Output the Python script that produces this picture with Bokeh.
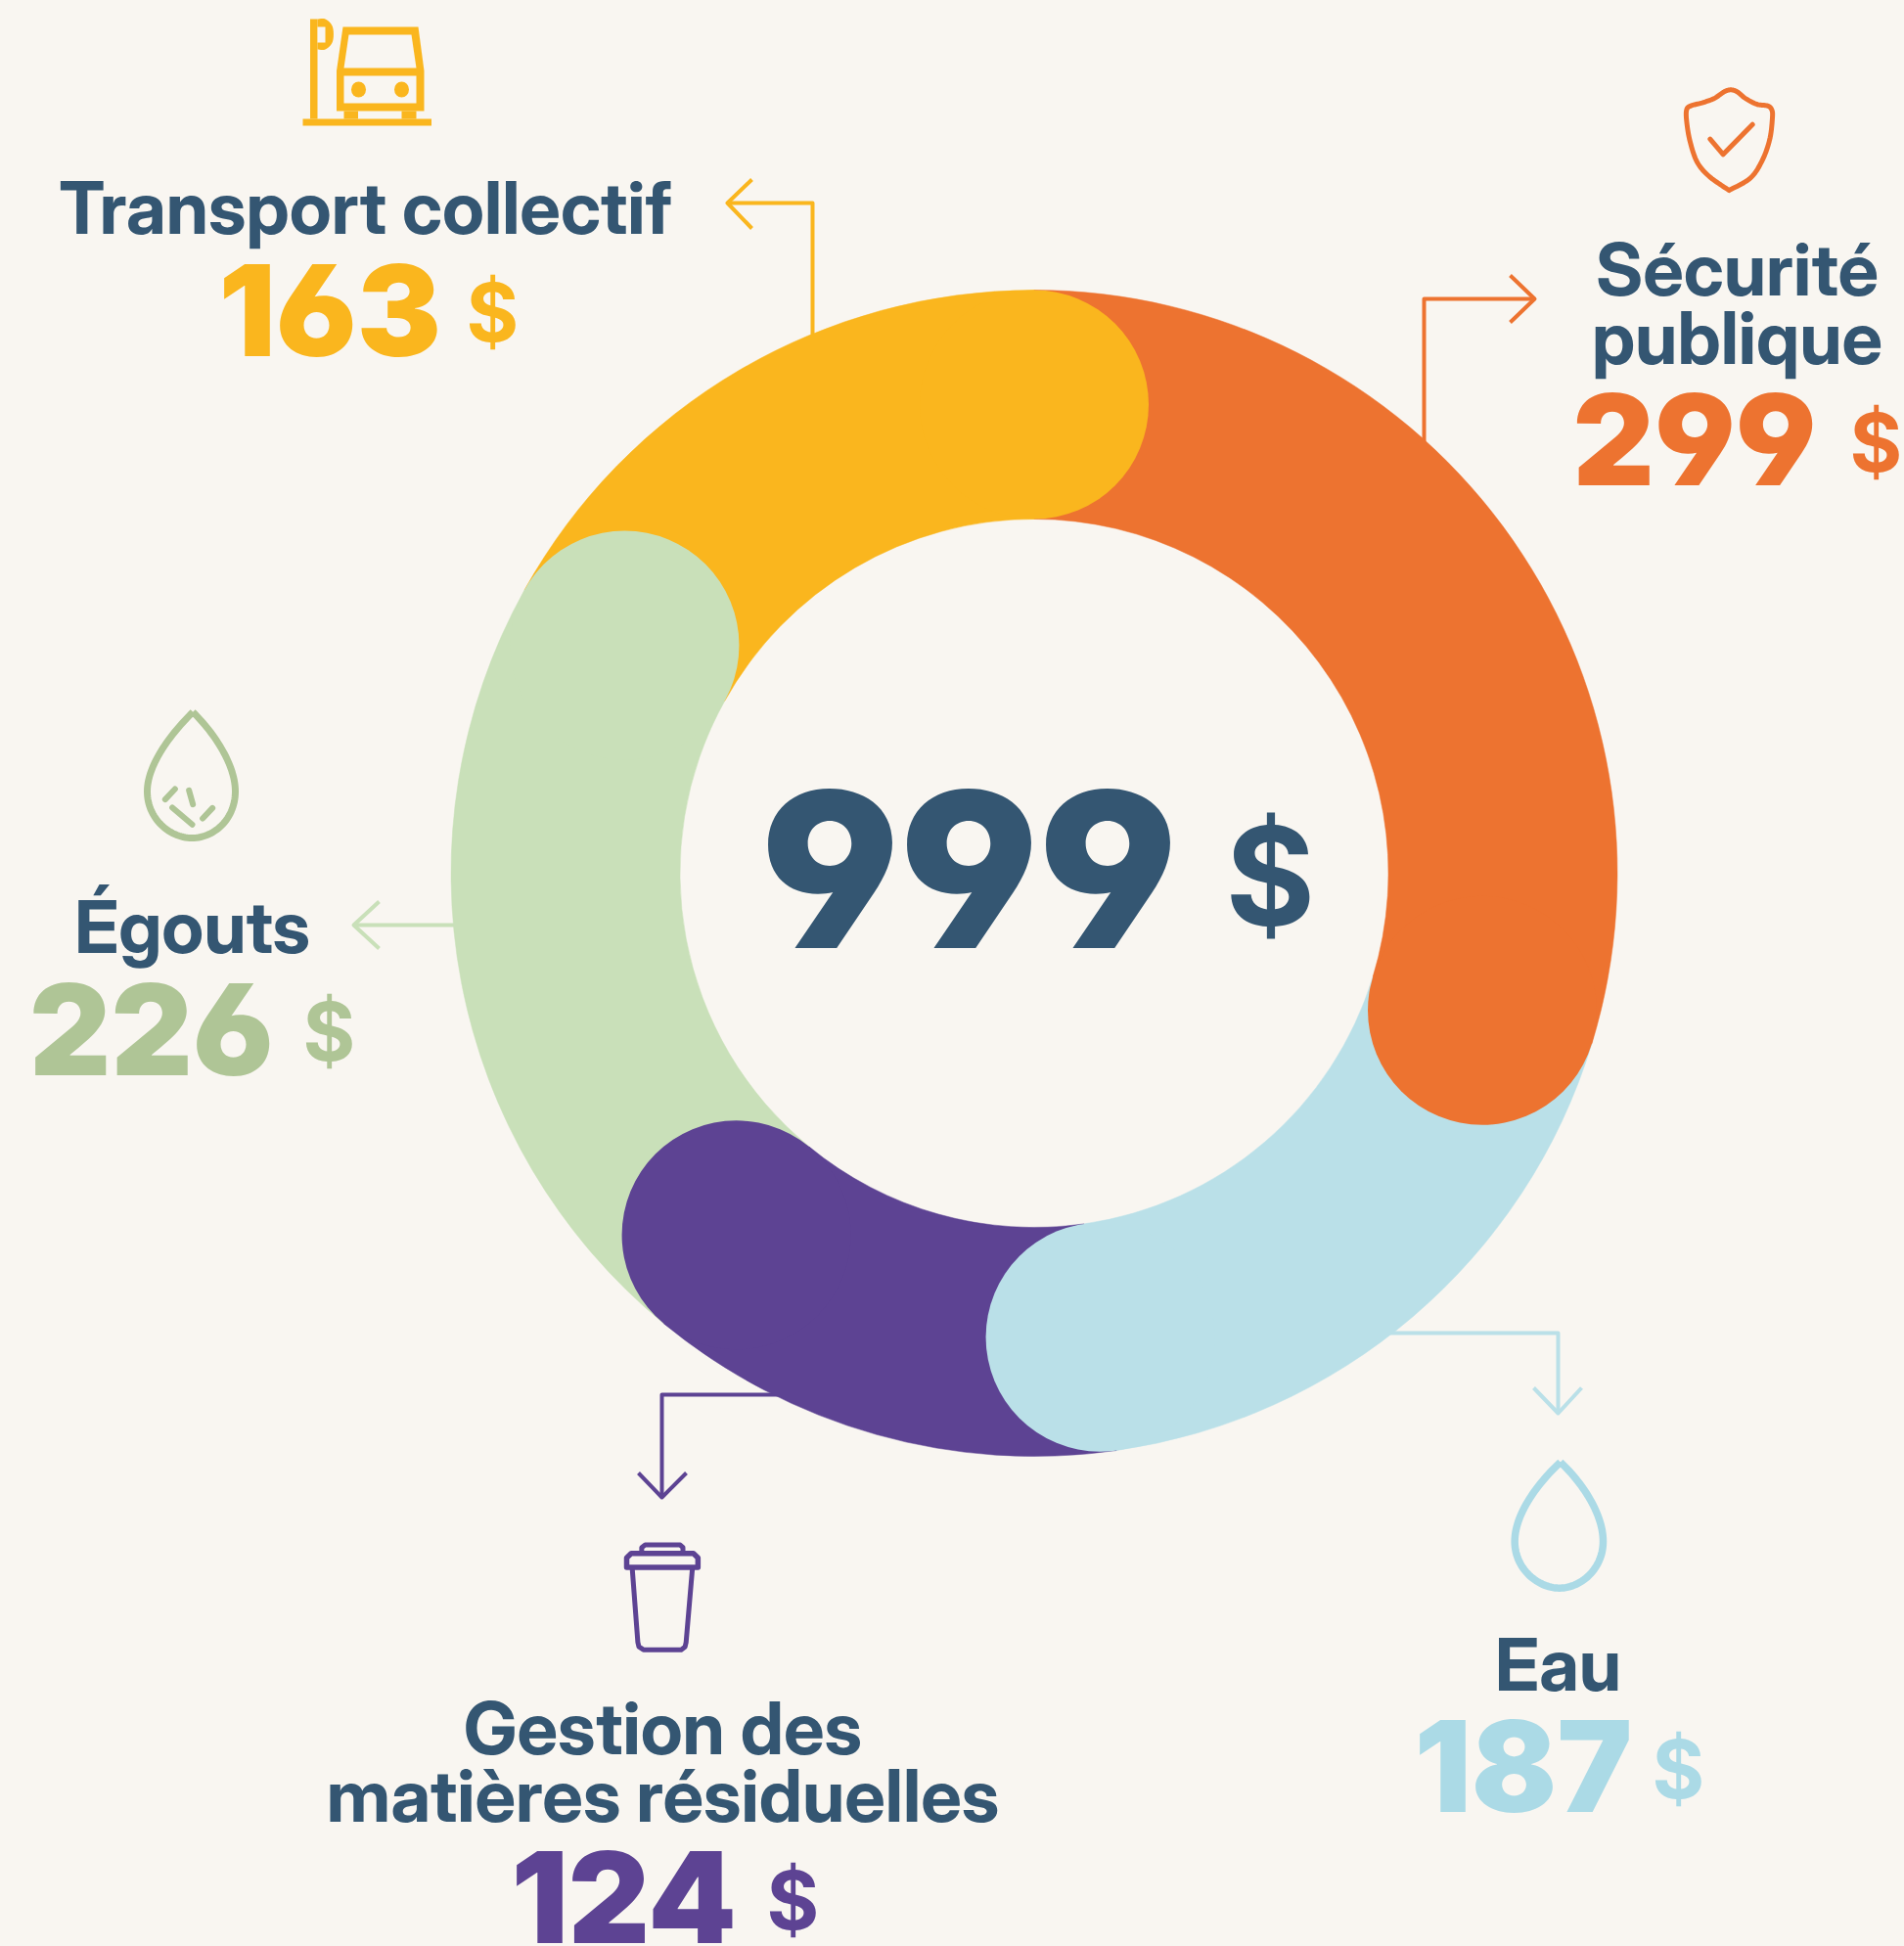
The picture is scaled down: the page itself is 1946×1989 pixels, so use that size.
import numpy as np
from bokeh.plotting import figure
from bokeh.embed import file_html
from bokeh.resources import INLINE
from bokeh.core.properties import value
from bokeh.models import Range1d

W, H = 1946, 1989
BG = "#f9f6f1"
NAVY = "#345672"

# ---- data (clockwise from the top of the ring)
categories = [["Sécurité", "publique"], ["Eau"], ["Gestion des", "matières résiduelles"], ["Égouts"], ["Transport collectif"]]
amounts = [299, 187, 124, 226, 163]
# the arc each amount occupies, in the same dollar units
arc_lengths = [297, 180, 132, 221, 169]
currency = "$"
ring_colors = ["#ed7330", "#bae0e8", "#5d4393", "#c9e0b9", "#fab61e"]
text_colors = ["#ed7330", "#abdae6", "#5d4393", "#afc596", "#fab61e"]

# ---- layout
CX, CY, R_OUT, R_IN = 1056.5, 892, 596, 362
label_center = [1775, 1592, 677, 196, 373]
label_base = [[302, 372], [1728], [1793, 1862], [974], [239]]
num_left = [1607, 1445, 522, 29.5, 223]
num_base = [496, 1852, 1986, 1099, 364]
dollar_left = [1890, 1688, 783, 309, 476]
dollar_base = [483, 1839, 1973, 1085, 350]
BASE_SHIFT = 0.372  # em, from the renderer's alphabetic baseline to the true one

def Y(v):
    return H - np.asarray(v, dtype=float)

p = figure(width=W, height=H, output_backend="svg", toolbar_location=None,
           x_range=Range1d(0, W), y_range=Range1d(0, H), x_axis_type=None, y_axis_type=None,
           min_border=0, background_fill_color=BG, border_fill_color=BG, outline_line_color=None)
p.grid.visible = False

def smooth(pts, n=14):
    P = np.array(pts, dtype=float)
    m = len(P)
    out = []
    for i in range(m - 1):
        p0, p1, p2, p3 = P[max(i - 1, 0)], P[i], P[i + 1], P[min(i + 2, m - 1)]
        for t in np.linspace(0, 1, n, endpoint=False):
            out.append(0.5 * ((2 * p1) + (-p0 + p2) * t + (2 * p0 - 5 * p1 + 4 * p2 - p3) * t * t + (-p0 + 3 * p1 - 3 * p2 + p3) * t ** 3))
    out.append(P[-1])
    return np.array(out)

def bezier(segs, n=30):
    out = []
    for a, b, c, d in segs:
        a, b, c, d = map(lambda q: np.array(q, dtype=float), (a, b, c, d))
        for t in np.linspace(0, 1, n, endpoint=False):
            out.append((1 - t) ** 3 * a + 3 * (1 - t) ** 2 * t * b + 3 * (1 - t) * t * t * c + t ** 3 * d)
    out.append(np.array(segs[-1][3], dtype=float))
    return np.array(out)

def stroke(pts, color, width, cap="round", join="round"):
    a = np.array(pts, dtype=float)
    p.line(a[:, 0], Y(a[:, 1]), line_color=color, line_width=width, line_cap=cap, line_join=join)

def fill(pts, color):
    a = np.array(pts, dtype=float)
    p.patch(a[:, 0], Y(a[:, 1]), fill_color=color, line_color=None)

# ---- leader arrows (under the ring)
LW = 4
arrows = [
    ([(1455, 470), (1455, 305), (1568, 305)], [(1543, 281), (1568, 305), (1543, 329)]),
    ([(1410, 1362), (1592, 1362), (1592, 1444)], [(1567, 1418), (1592, 1444), (1616, 1418)]),
    ([(810, 1425), (676, 1425), (676, 1530)], [(652, 1505), (676, 1530), (701, 1505)]),
    ([(480, 945), (361, 945)], [(387, 921), (361, 945), (387, 969)]),
    ([(830, 360), (830, 207), (743, 207)], [(768, 183), (743, 207), (768, 233)]),
]
for color, (shaft, head) in zip(ring_colors, arrows):
    stroke(shaft, color, LW, "butt")
    stroke(head, color, LW, "butt")

# ---- ring
values = np.array(arc_lengths, dtype=float)
edges = np.cumsum(np.r_[0, values]) / values.sum() * 2 * np.pi
starts = np.pi / 2 - edges[:-1]
ends = np.pi / 2 - edges[1:]
xc, yc = CX, H - CY
p.annular_wedge(x=[xc] * 5, y=[yc] * 5, inner_radius=R_IN, outer_radius=R_OUT,
                start_angle=starts, end_angle=ends, direction="clock",
                fill_color=ring_colors, line_color=ring_colors, line_width=0.5)
rm = (R_IN + R_OUT) / 2
p.circle(x=xc + rm * np.cos(ends), y=yc + rm * np.sin(ends), radius=(R_OUT - R_IN) / 2,
         fill_color=ring_colors, line_color=None)

# ---- texts
def txt(x, y, s, font, size, color, align="left", style="normal"):
    p.text([x], [H - y + BASE_SHIFT * size], text=[s], text_font=value(font), text_font_size=f"{size}px",
           text_color=color, text_align=align, text_baseline="alphabetic", text_font_style=style)

txt(777, 970, str(sum(amounts)), "Inter Black", 221, NAVY)
txt(1252, 947, currency, "Inter", 140, NAVY, style="bold")

for i, names in enumerate(categories):
    for line, base in zip(names, label_base[i]):
        txt(label_center[i], base, line, "Inter Display", 74, NAVY, "center", "bold")
    txt(num_left[i], num_base[i], str(amounts[i]), "Inter Black", 129, text_colors[i])
    txt(dollar_left[i], dollar_base[i], currency, "Inter", 82, text_colors[i], style="bold")

# ---- icons
Yc = "#fab61e"
def rect(x0, y0, x1, y1, c): fill([(x0, y0), (x1, y0), (x1, y1), (x0, y1)], c)
# bus stop
rect(309, 121, 440.5, 128, Yc)
rect(316.5, 19, 324, 121, Yc)
fill(smooth([(324, 19), (332, 19), (339.5, 27), (339.5, 42), (332, 50), (324, 50)], n=6), Yc)
rect(324, 27, 332, 43, BG)
fill([(350, 27), (427, 27), (433, 72), (433, 113), (343.5, 113), (343.5, 72)], Yc)
fill([(356, 35), (420, 35), (425, 69), (351, 69)], BG)
rect(351, 77, 425, 105, BG)
rect(351, 113, 365.5, 121, Yc)
rect(410, 113, 425, 121, Yc)
p.ellipse(x=[366, 410], y=Y([91, 91]), width=15, height=16, fill_color=Yc, line_color=None)

# shield
sz = [(1010, 372), (1075, 335), (1112, 280), (1135, 215), (1143, 150), (1141, 125), (1128, 113), (1095, 108), (1060, 90),
      (1035, 70), (1015, 64), (995, 70), (965, 90), (930, 103), (893, 113), (880, 125), (880, 160), (890, 220), (912, 285), (950, 330), (1010, 372)]
stroke(smooth([(1430 + x / 3, 70 + y / 3) for x, y in sz]), "#ed7330", 5)
stroke([(1430 + x / 3, 70 + y / 3) for x, y in [(952, 215), (992, 262), (1082, 170)]], "#ed7330", 5)

# sewage drop
def gz(q): return (20 + q[0] / 3, 700 + q[1] / 3)
gsegs = [((530, 82), (590, 140), (660, 240), (660, 325)), ((660, 325), (660, 410), (595, 468), (527, 468)),
         ((527, 468), (460, 468), (390, 410), (390, 325)), ((390, 325), (390, 240), (470, 140), (530, 82))]
stroke(bezier([tuple(gz(q) for q in s) for s in gsegs]), "#afc596", 7, "butt", "miter")
for seg in [[(445, 350), (475, 318)], [(518, 322), (530, 365)], [(467, 375), (528, 427)], [(560, 408), (590, 376)]]:
    stroke([gz(q) for q in seg], "#afc596", 6)

# water drop
def wzf(q): return (1400 + q[0] / 3, 1340 + q[1] / 3)
wsegs = [((583, 462), (650, 525), (714, 620), (714, 705)), ((714, 705), (714, 790), (645, 848), (580, 848)),
         ((580, 848), (515, 848), (443, 790), (443, 705)), ((443, 705), (443, 620), (515, 525), (583, 462))]
stroke(bezier([tuple(wzf(q) for q in s) for s in wsegs]), "#abdae6", 7.5, "butt", "miter")

# bin
def tz(pts): return [(300 + x / 2.8, 1400 + y / 2.66) for x, y in pts]
Pc = "#5d4393"
stroke(tz([(968, 540), (984, 740), (987, 752), (1000, 760), (1108, 760), (1119, 752), (1122, 740), (1140, 540)]), Pc, 5)
stroke(tz([(952, 536), (952, 510), (965, 498), (1143, 498), (1156, 510), (1156, 536), (952, 536)]), Pc, 5.5)
stroke(tz([(995, 495), (995, 482), (1005, 475), (1105, 475), (1113, 482), (1113, 495)]), Pc, 5)

html = file_html(p, INLINE)
css = f'html,body{{margin:0;padding:0;background:{BG};overflow:hidden;font-feature-settings:"cv03","cv04"}}'
html = html.replace("<head>", f"<head><style>{css}</style>", 1)
open("out.html", "w").write(html)
